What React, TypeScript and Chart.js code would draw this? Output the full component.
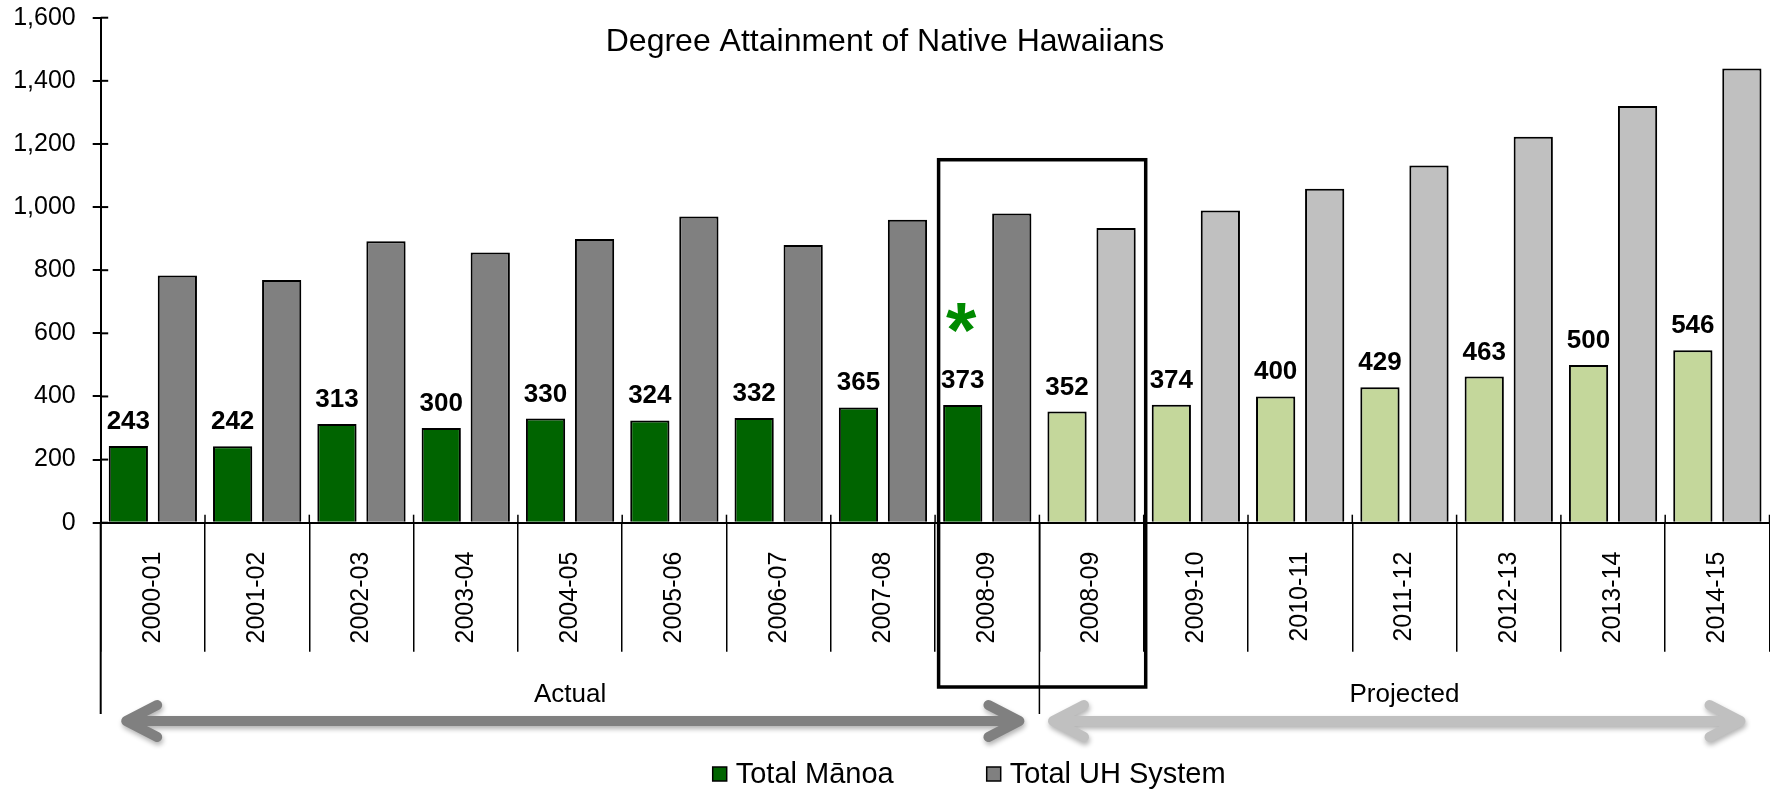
import { useEffect, useRef } from 'react';
import { Chart, registerables } from 'chart.js';

Chart.register(...registerables);

const FONT = "'Liberation Sans', Arial, Helvetica, sans-serif";

const chartTitle = 'Degree Attainment of Native Hawaiians';
const categories = [
  '2000-01', '2001-02', '2002-03', '2003-04', '2004-05', '2005-06', '2006-07', '2007-08',
  '2008-09', '2008-09', '2009-10', '2010-11', '2011-12', '2012-13', '2013-14', '2014-15',
];
const manoa = [243, 242, 313, 300, 330, 324, 332, 365, 373, 352, 374, 400, 429, 463, 500, 546];
const uhSystem = [783, 769, 892, 856, 899, 970, 880, 960, 980, 934, 989, 1058, 1132, 1223, 1320, 1439];
const projected = [false, false, false, false, false, false, false, false, false, true, true, true, true, true, true, true];
const seriesNames = ['Total Mānoa', 'Total UH System'];
const yTickValues = [0, 200, 400, 600, 800, 1000, 1200, 1400, 1600];
const groupLabels = ['Actual', 'Projected'];
const groupStarts = [0, 9];
const groupEnds = [8, 15];
const boxedFirst = 8;
const boxedLast = 9;
const boxTopValue = 1150;
const starIndex = 8;

const COLORS = {
  manoaActual: '#006400',
  manoaProjected: '#c4d79b',
  uhActual: '#808080',
  uhProjected: '#c0c0c0',
  star: '#008a00',
};
const ARROW_COLORS = ['#808080', '#c0c0c0'];

const decorPlugin = {
  id: 'decor',
  beforeDatasetsDraw(chart: any) {
    const ctx = chart.ctx;
    ctx.save();
    ctx.shadowColor = 'rgba(0,0,0,0.22)';
    ctx.shadowBlur = 5;
    ctx.shadowOffsetX = 2;
    ctx.shadowOffsetY = 2;
  },
  afterDatasetsDraw(chart: any) {
    chart.ctx.restore();
  },
  afterDraw(chart: any) {
    const { ctx, chartArea: ca, scales } = chart;
    const xs = scales.x;
    const ys = scales.y;
    const n = categories.length;
    const cw = (ca.right - ca.left) / n;
    const b = (i: number) => xs.getPixelForValue(0) - cw / 2 + i * cw;

    const line = (x1: number, y1: number, x2: number, y2: number, lw: number, color = '#000') => {
      ctx.save();
      ctx.strokeStyle = color;
      ctx.lineWidth = lw;
      ctx.beginPath();
      ctx.moveTo(x1, y1);
      ctx.lineTo(x2, y2);
      ctx.stroke();
      ctx.restore();
    };

    // title
    ctx.save();
    ctx.fillStyle = '#000';
    ctx.font = `32px ${FONT}`;
    ctx.textAlign = 'center';
    ctx.textBaseline = 'alphabetic';
    ctx.fillText(chartTitle, chart.width / 2, 50.5);
    ctx.restore();

    // inner halves of cross ticks on y axis
    ys.ticks.forEach((t: any) => {
      const y = ys.getPixelForValue(t.value);
      line(ca.left, y, ca.left + 7.5, y, 2);
    });

    // category dividers crossing above x axis
    for (let i = 1; i <= n; i++) {
      line(b(i), ca.bottom - 8, b(i), ca.bottom, 1.5);
    }

    // group separators (longer lines)
    groupStarts.forEach((s) => {
      line(b(s), ca.bottom, b(s), 714, s === 0 ? 2 : 1.5);
    });

    // group labels and arrows
    groupLabels.forEach((lab, g) => {
      const x1 = b(groupStarts[g]);
      const x2 = b(groupEnds[g] + 1);
      ctx.save();
      ctx.fillStyle = '#000';
      ctx.font = `26px ${FONT}`;
      ctx.textAlign = 'center';
      ctx.textBaseline = 'alphabetic';
      ctx.fillText(lab, (x1 + x2) / 2, 702);
      ctx.restore();

      const tipL = g === 0 ? x1 + 25.5 : x1 + 13.6;
      const tipR = g === 0 ? x2 - 20 : x2 - 29;
      const y = 721;
      ctx.save();
      ctx.shadowColor = 'rgba(0,0,0,0.3)';
      ctx.shadowBlur = 5;
      ctx.shadowOffsetX = 1;
      ctx.shadowOffsetY = 3;
      ctx.strokeStyle = ARROW_COLORS[g];
      ctx.lineCap = 'round';
      ctx.lineJoin = 'round';
      ctx.beginPath();
      ctx.moveTo(tipL + 4, y);
      ctx.lineTo(tipR - 4, y);
      ctx.moveTo(tipL + 31, y - 16);
      ctx.lineTo(tipL, y);
      ctx.lineTo(tipL + 31, y + 16);
      ctx.moveTo(tipR - 31, y - 16);
      ctx.lineTo(tipR, y);
      ctx.lineTo(tipR - 31, y + 16);
      ctx.lineWidth = 10;
      ctx.stroke();
      ctx.restore();
    });

    // highlight box
    ctx.save();
    ctx.strokeStyle = '#000';
    ctx.lineWidth = 3.5;
    const bl = b(boxedFirst) + 3.5;
    const br = b(boxedLast + 1) + 2;
    const bt = ys.getPixelForValue(boxTopValue);
    ctx.strokeRect(bl, bt, br - bl, 687 - bt);
    ctx.restore();

    // data labels for Manoa
    const meta = chart.getDatasetMeta(0);
    ctx.save();
    ctx.fillStyle = '#000';
    ctx.font = `bold 26px ${FONT}`;
    ctx.textAlign = 'center';
    ctx.textBaseline = 'alphabetic';
    meta.data.forEach((bar: any, i: number) => {
      ctx.fillText(String(manoa[i]), bar.x, bar.y - 17);
    });
    ctx.restore();

    // asterisk
    const sb = meta.data[starIndex];
    ctx.save();
    ctx.fillStyle = COLORS.star;
    ctx.font = `bold 78px ${FONT}`;
    ctx.textAlign = 'center';
    ctx.textBaseline = 'alphabetic';
    const m = ctx.measureText('*');
    const target = sb.y - 86.5;
    const base = target - (m.actualBoundingBoxDescent - m.actualBoundingBoxAscent) / 2;
    ctx.fillText('*', sb.x - 1.5, base);
    ctx.restore();

    // legend
    const legendX = [712.7, 986.7];
    const legendColors = [COLORS.manoaActual, COLORS.uhActual];
    seriesNames.forEach((name, k) => {
      const x = legendX[k];
      ctx.save();
      ctx.fillStyle = legendColors[k];
      ctx.fillRect(x, 767, 14, 14);
      ctx.strokeStyle = '#000';
      ctx.lineWidth = 1.5;
      ctx.strokeRect(x, 767, 14, 14);
      ctx.fillStyle = '#000';
      ctx.font = `29px ${FONT}`;
      ctx.textAlign = 'left';
      ctx.textBaseline = 'alphabetic';
      ctx.fillText(name, x + 23, 782.5);
      ctx.restore();
    });
  },
};

export default function App() {
  const canvasRef = useRef<HTMLCanvasElement | null>(null);

  useEffect(() => {
    const canvas = canvasRef.current;
    if (!canvas) return;
    Chart.defaults.font.family = FONT;
    const chart = new Chart(canvas, {
      type: 'bar',
      data: {
        labels: categories,
        datasets: [
          {
            label: seriesNames[0],
            data: manoa,
            backgroundColor: projected.map((p) => (p ? COLORS.manoaProjected : COLORS.manoaActual)),
            borderColor: '#000',
            borderWidth: 2,
            categoryPercentage: 0.94,
            barPercentage: 0.8,
          },
          {
            label: seriesNames[1],
            data: uhSystem,
            backgroundColor: projected.map((p) => (p ? COLORS.uhProjected : COLORS.uhActual)),
            borderColor: '#000',
            borderWidth: 2,
            categoryPercentage: 0.94,
            barPercentage: 0.8,
          },
        ],
      },
      options: {
        responsive: false,
        animation: false,
        events: [],
        layout: { padding: { top: 17.7, right: 0.5, left: 0, bottom: 0 } },
        plugins: {
          legend: { display: false },
          title: { display: false },
          tooltip: { enabled: false },
        },
        scales: {
          x: {
            offset: true,
            grid: {
              display: true,
              offset: true,
              drawOnChartArea: false,
              drawTicks: true,
              tickLength: 129,
              color: '#000',
              lineWidth: 1.5,
            },
            border: { display: true, color: '#000', width: 2 },
            ticks: {
              autoSkip: false,
              minRotation: 90,
              maxRotation: 90,
              padding: -100,
              color: '#000',
              font: { size: 25, family: FONT },
            },
            afterFit: (s: any) => {
              s.height = 267.3;
              s.paddingLeft = 0;
              s.paddingRight = 0;
            },
          },
          y: {
            min: 0,
            max: 1600,
            afterBuildTicks: (s: any) => {
              s.ticks = yTickValues.map((v) => ({ value: v }));
            },
            ticks: {
              padding: 17,
              color: '#000',
              font: { size: 25, family: FONT },
              callback: (v: any) => Number(v).toLocaleString('en-US'),
            },
            grid: {
              drawOnChartArea: false,
              drawTicks: true,
              tickLength: 8,
              color: '#000',
              lineWidth: 2,
            },
            border: { display: true, color: '#000', width: 2 },
            afterFit: (s: any) => {
              s.width = 100.7;
              s.paddingTop = 0;
              s.paddingBottom = 0;
            },
          },
        },
      },
      plugins: [decorPlugin],
    });
    return () => chart.destroy();
  }, []);

  return (
    <div style={{ position: 'absolute', left: 0, top: 0, width: 1770, height: 790, background: '#fff' }}>
      <canvas ref={canvasRef} width={1770} height={790} style={{ display: 'block', width: 1770, height: 790 }} />
    </div>
  );
}
